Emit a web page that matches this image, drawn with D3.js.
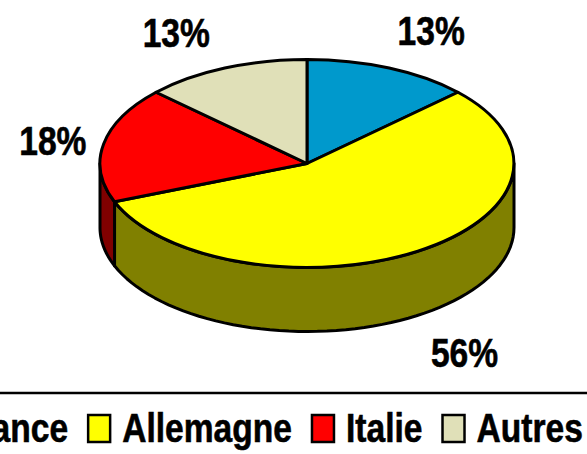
<!DOCTYPE html>
<html>
<head>
<meta charset="utf-8">
<script src="https://cdn.jsdelivr.net/npm/d3@7"></script>
<style>
    html, body { margin: 0; padding: 0; background: #fff; overflow: hidden; }
    svg { display: block; }
    text { font-family: "Liberation Sans", Arial, sans-serif; font-weight: bold; fill: #000; stroke: #000; stroke-width: 0.6; }
</style>
</head>
<body>
<div id="chart"></div>
<script>
const categories = ["France", "Allemagne", "Italie", "Autres"];
const shares = [13, 56, 18, 13];
const topColors = ["#0099cc", "#ffff00", "#ff0000", "#e0e0b8"];
const wallColors = ["#004c66", "#808000", "#800000", "#707058"];

const width = 587;
const height = 454;
const centerX = 307;
const centerY = 163.5;
const radiusX = 207;
const radiusY = 104;
const depth = 64;
const lineW = 3;
const textSize = 40;
const textSquash = 0.84;

// label position, as a factor of the radius along the slice middle, then pushed down by the wall
const labelFactors = [[1.51, 1.39, 0], [1.42, 1.43, depth], [1.25, 1.18, 0], [1.59, 1.37, 0]];

const svg = d3.select("#chart").append("svg")
    .attr("width", width)
    .attr("height", height);

const slices = d3.pie().sort(null).value(d => d)(shares);

const px = d3.scaleLinear().domain([-1, 1]).range([centerX - radiusX, centerX + radiusX]);
const py = d3.scaleLinear().domain([-1, 1]).range([centerY + radiusY, centerY - radiusY]);

const pointAt = (a, drop) => [px(Math.sin(a)), py(Math.cos(a)) + drop];
const line = d3.line();

// walls: only the part of each slice on the front half of the ellipse
const wallGroup = svg.append("g");
slices.forEach((s, i) => {
    const from = Math.max(s.startAngle, Math.PI / 2);
    const to = Math.min(s.endAngle, Math.PI * 1.5);
    if (from >= to) return;
    const steps = d3.range(0, 61).map(k => from + (to - from) * k / 60);
    const outline = steps.map(a => pointAt(a, 0))
        .concat(steps.slice().reverse().map(a => pointAt(a, depth)));
    wallGroup.append("path")
        .attr("d", line(outline) + "Z")
        .attr("fill", wallColors[i])
        .attr("stroke", "#000")
        .attr("stroke-width", lineW)
        .attr("stroke-linejoin", "round");
});

// top of the pie: a unit pie squashed into the ellipse
const arc = d3.arc().innerRadius(0).outerRadius(1);
svg.append("g")
    .attr("transform", `translate(${centerX},${centerY}) scale(${radiusX},${radiusY})`)
    .selectAll("path")
    .data(slices)
    .join("path")
    .attr("d", arc)
    .attr("fill", (d, i) => topColors[i])
    .attr("stroke", "#000")
    .attr("stroke-width", lineW)
    .attr("stroke-linejoin", "round")
    .attr("vector-effect", "non-scaling-stroke");

// percent labels
svg.append("g")
    .selectAll("text")
    .data(slices)
    .join("text")
    .attr("transform", (d, i) => {
        const mid = (d.startAngle + d.endAngle) / 2;
        const f = labelFactors[i];
        const x = centerX + f[0] * radiusX * Math.sin(mid);
        const y = centerY - f[1] * radiusY * Math.cos(mid) + f[2];
        return `translate(${x},${y}) scale(${textSquash},1)`;
    })
    .attr("text-anchor", "middle")
    .attr("dy", "0.36em")
    .attr("font-size", textSize)
    .text(d => d.data + "%");

// rule above the legend
svg.append("line")
    .attr("x1", 0).attr("x2", width)
    .attr("y1", 393).attr("y2", 393)
    .attr("stroke", "#000")
    .attr("stroke-width", 2.5);

// legend runs off both sides of the frame, as in the source
const legend = svg.append("g");
const swatchW = 22;
const swatchH = 27;
let cursor = -76;
categories.forEach((name, i) => {
    legend.append("rect")
        .attr("x", cursor).attr("y", 415)
        .attr("width", swatchW).attr("height", swatchH)
        .attr("fill", topColors[i])
        .attr("stroke", "#000")
        .attr("stroke-width", 2.5);
    const label = legend.append("text")
        .attr("transform", `translate(${cursor + swatchW + 12},442) scale(${textSquash},1)`)
        .attr("font-size", textSize)
        .text(name);
    cursor += swatchW + 12 + label.node().getComputedTextLength() * textSquash + 20;
});
</script>
</body>
</html>
